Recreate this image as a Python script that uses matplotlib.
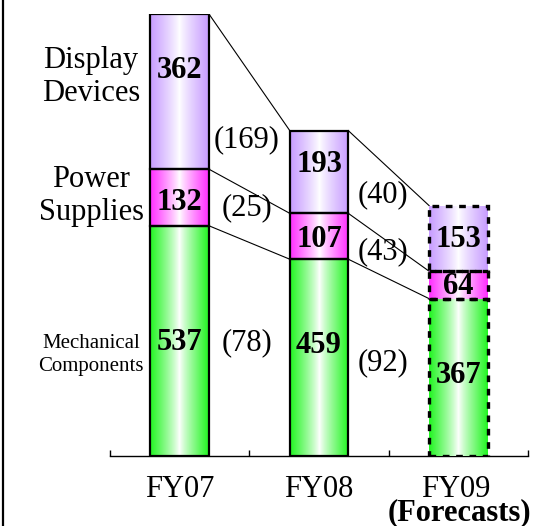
import numpy as np
import matplotlib.pyplot as plt
from matplotlib.lines import Line2D
from matplotlib.colors import to_rgb

plt.rcParams["font.family"] = ["Liberation Serif", "DejaVu Serif"]

# ------------ data ---------------------------------------------------------
years = ["FY07", "FY08", "FY09"]
segments = ["Mechanical\nComponents", "Power\nSupplies", "Display\nDevices"]
mechanical = [537, 459, 367]
power = [132, 107, 64]
display = [362, 193, 153]
forecast = [False, False, True]

# where the numbers sit (data units)
value_label_y = [[264, 257, 187], [592, 506, 396], [900, 681, 506]]
delta_label_y = [[264, 217], [578, 476], [737, 609]]
segment_label_y = [236, 606, 884]

colors = ["#22f522", "#ff2eff", "#c79cff"]
values = np.array([mechanical, power, display], dtype=float)
bottoms = np.vstack([np.zeros(3), np.cumsum(values, axis=0)[:-1]])
tops = bottoms + values

fig = plt.figure(figsize=(5.38, 5.26), dpi=100)
ax = fig.add_axes([0.2045, 0.1331, 0.7770, 0.8403])
x = np.arange(len(years))
width = 0.42


def gradient(color):
    # saturated at the bar edges, white down the middle
    u = np.linspace(0, 1, 256)
    t = np.abs(2 * u - 1) ** 0.85
    c = np.array(to_rgb(color))
    rgb = 1 - t[:, None] * (1 - c[None, :])
    return rgb[None, :, :]


for k in range(3):
    for i in range(3):
        dashed = forecast[i]
        bar = ax.bar(
            x[i], values[k, i], width, bottom=bottoms[k, i],
            facecolor="none", edgecolor="black",
            linewidth=2.4 if dashed else 1.6,
            linestyle=(0, (2, 2)) if dashed else "-",
            zorder=4,
        )[0]
        im = ax.imshow(
            gradient(colors[k]), aspect="auto", zorder=3,
            extent=[x[i] - width / 2, x[i] + width / 2, bottoms[k, i], tops[k, i]],
        )
        im.set_clip_path(bar)
        ax.text(x[i], value_label_y[k][i], f"{int(values[k, i])}",
                ha="center", va="center", fontsize=22, fontweight="bold", zorder=5)

# thin connectors between the segment boundaries of neighbouring bars
for k in range(3):
    for i in range(2):
        ax.add_line(Line2D([x[i] + width / 2, x[i + 1] - width / 2],
                           [tops[k, i], tops[k, i + 1]],
                           color="black", linewidth=0.8, zorder=2))
        ax.text(x[i] + 0.48 - i * 0.02, delta_label_y[k][i],
                f"({int(values[k, i] - values[k, i + 1])})",
                ha="center", va="center", fontsize=22)

for k in range(3):
    ax.text(-0.636, segment_label_y[k], segments[k], ha="center", va="center",
            fontsize=15 if k == 0 else 22, linespacing=1.3 if k == 0 else 1.2)

ax.set_xlim(-0.5, 2.5)
ax.set_ylim(0, tops[-1].max())
for side in ["left", "right", "top"]:
    ax.spines[side].set_visible(False)
ax.spines["bottom"].set_linewidth(1.0)
ax.set_yticks([])
ax.set_xticks(np.arange(-0.5, 3, 1))
ax.set_xticklabels([])
ax.tick_params(axis="x", direction="in", length=4, width=1)

for i, label in enumerate(years):
    ax.annotate(label, xy=(x[i], 0), xycoords=("data", "axes fraction"),
                xytext=(-2 if i == 2 else 0, -24),
                textcoords="offset points",
                ha="center", va="center", fontsize=22)
ax.annotate("(Forecasts)", xy=(x[2], 0), xycoords=("data", "axes fraction"),
            xytext=(1, -40.5), textcoords="offset points",
            ha="center", va="center", fontsize=22, fontweight="bold")

fig.add_artist(Line2D([0.0048, 0.0048], [0, 1], transform=fig.transFigure,
                      color="black", linewidth=1.6))

fig.savefig("out.png", dpi=100)
